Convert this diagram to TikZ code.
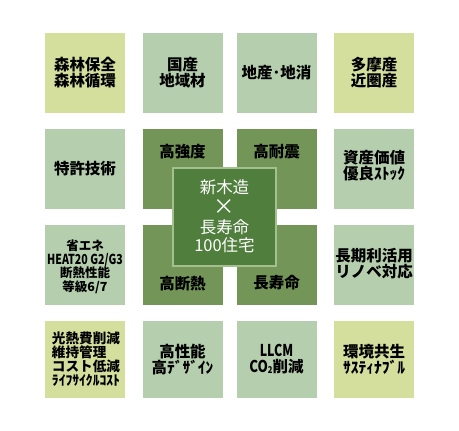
\documentclass[tikz,border=0pt]{standalone}
\usepackage{fontspec}
\usepackage{graphicx}
\newfontfamily\jp{Noto Sans CJK JP}
\definecolor{ygreen}{HTML}{D4DF9E}
\definecolor{lgreen}{HTML}{B5CFAE}
\definecolor{mgreen}{HTML}{739557}
\definecolor{dgreen}{HTML}{4F7E3D}
\definecolor{cborder}{HTML}{A3C08E}
\tikzset{
  tile/.style={inner sep=0pt, minimum width=80pt, minimum height=80pt, draw=none},
  ytile/.style={tile, fill=ygreen},
  ltile/.style={tile, fill=lgreen},
  mtile/.style={tile, fill=mgreen},
  ctile/.style={inner sep=0pt, minimum width=103pt, minimum height=98pt, fill=dgreen, draw=cborder, line width=1.2pt},
  lbl/.style={font=\jp\bfseries\fontsize{15.5}{16}\selectfont, align=center, inner sep=0pt, text=black},
  lbll/.style={lbl, align=left},
  sml/.style={font=\jp\bfseries\fontsize{12.5}{13.5}\selectfont, align=center, inner sep=0pt, text=black},
  smll/.style={font=\jp\bfseries\fontsize{13.6}{14}\selectfont, align=left, inner sep=0pt, text=black},
  ctext/.style={font=\jp\fontsize{16.5}{17}\selectfont, align=center, inner sep=0pt, text=white}
}
\begin{document}
\begin{tikzpicture}[x=1pt,y=-1pt]
\useasboundingbox[fill=white] (0,0) rectangle (459,431);
% row 1
\node[ytile] (a1) at (85,73) {};
\node[ltile] (a2) at (182.5,73) {};
\node[ltile] (a3) at (276.5,73) {};
\node[ytile] (a4) at (374,73) {};
% row 2
\node[ltile] (b1) at (85,169) {};
\node[mtile] (b2) at (182.5,169) {};
\node[mtile] (b3) at (276.5,169) {};
\node[ltile] (b4) at (374,169) {};
% row 3
\node[ltile] (c1) at (85,265) {};
\node[mtile] (c2) at (182.5,265) {};
\node[mtile] (c3) at (276.5,265) {};
\node[ltile] (c4) at (374,265) {};
% row 4
\node[ytile, minimum height=77pt] (d1) at (85,359.5) {};
\node[ltile, minimum height=77pt] (d2) at (182.5,359.5) {};
\node[ltile, minimum height=77pt] (d3) at (276.5,359.5) {};
\node[ytile, minimum height=77pt] (d4) at (374,359.5) {};
% centre
\node[ctile] (cc) at (224.5,217) {};
% labels
\node[lbl] (ta1) at (a1.center) {森林保全\\森林循環};
\node[lbl] (ta2) at (a2.center) {国産\\地域材};
\node[lbl] (ta3) at (a3.center) {地産･地消};
\node[lbl] (ta4) at (a4.center) {多摩産\\近圏産};
\node[lbl] (tb1) at (b1.center) {特許技術};
\node[lbl] (tb2) at ([yshift=-23pt]b2.north) {高強度};
\node[lbl] (tb3) at ([yshift=-23pt]b3.north) {高耐震};
\node[lbll] (tb4) at ([yshift=3pt]b4.center) {資産価値\\優良ｽﾄｯｸ};
\node[sml] (tc1) at ([yshift=-2pt]c1.center) {省エネ\\\scalebox{0.85}[1.1]{HEAT20 G2/G3}\\断熱性能\\等級6/7};
\node[lbl] (tc2) at ([yshift=22pt]c2.south) {高断熱};
\node[lbl] (tc3) at ([yshift=23pt]c3.south) {長寿命};
\node[lbl] (tc4) at ([yshift=1pt]c4.center) {長期利活用\\リノベ対応};
\node[smll] (td1) at ([xshift=1pt]d1.center) {光熱費削減\\維持管理\\コスト低減\\ﾗｲﾌｻｲｸﾙｺｽﾄ};
\node[lbl] (td2) at (d2.center) {高性能\\高ﾃﾞｻﾞｲﾝ};
\node[lbl] (td3) at (d3.center) {\scalebox{0.8}[1.05]{LLCM}\\\scalebox{0.85}[1.05]{CO{\fontsize{9}{9}\selectfont\raisebox{-1pt}{2}}}削減};
\node[lbl] (td4) at (d4.center) {環境共生\\ｻｽﾃｨﾅﾌﾞﾙ};
% centre text, one node per line
\node[ctext] (tcc1) at ([yshift=30pt]cc.center) {新木造};
\node[ctext] (tcc2) at ([yshift=10pt]cc.center) {\scalebox{1.3}{×}};
\node[ctext] (tcc3) at ([yshift=-10.5pt]cc.center) {長寿命};
\node[ctext] (tcc4) at ([yshift=-28pt]cc.center) {100住宅};
\end{tikzpicture}
\end{document}
